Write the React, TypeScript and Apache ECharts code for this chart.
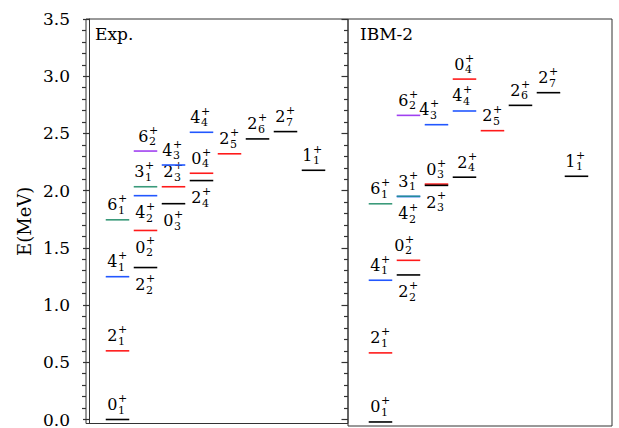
import React, { useEffect, useRef } from "react";
import * as echarts from "echarts";

// ---------- data ----------
const yTicks = [0.0, 0.5, 1.0, 1.5, 2.0, 2.5, 3.0, 3.5];
const yMinorTicks = [
  0.1, 0.2, 0.3, 0.4, 0.6, 0.7, 0.8, 0.9, 1.1, 1.2, 1.3, 1.4, 1.6, 1.7, 1.8, 1.9,
  2.1, 2.2, 2.3, 2.4, 2.6, 2.7, 2.8, 2.9, 3.1, 3.2, 3.3, 3.4,
];
const yAxisName = "E(MeV)";
const panelTitles = ["Exp.", "IBM-2"];

// level names are "J_n" (spin J, n-th state), parity always +
const expLevels = ["0_1", "2_1", "4_1", "2_2", "0_2", "6_1", "4_2", "3_1", "6_2", "0_3", "2_3", "4_3", "2_4", "0_4", "4_4", "2_5", "2_6", "2_7", "1_1"];
const expEnergies = [0.0, 0.6, 1.248, 1.328, 1.652, 1.745, 1.956, 2.034, 2.346, 1.886, 2.034, 2.224, 2.088, 2.152, 2.51, 2.322, 2.452, 2.516, 2.178];
const expColumns = [1, 1, 1, 2, 2, 1, 2, 2, 2, 3, 3, 3, 4, 4, 4, 5, 6, 7, 8];

const ibmLevels = ["0_1", "2_1", "4_1", "2_2", "0_2", "6_1", "4_2", "3_1", "0_3", "2_3", "2_4", "6_2", "4_3", "4_4", "0_4", "2_5", "2_6", "2_7", "1_1"];
const ibmEnergies = [0.0, 0.6, 1.231, 1.277, 1.404, 1.895, 1.958, 1.96, 2.066, 2.055, 2.126, 2.663, 2.582, 2.701, 2.978, 2.53, 2.75, 2.86, 2.134];
const ibmColumns = [1, 1, 1, 2, 2, 1, 2, 2, 3, 3, 4, 2, 3, 4, 4, 5, 6, 7, 8];

// ---------- styles / layout ----------
const FONT = "DejaVu Serif";
const BLACK = "#000000";
const RED = "#ff1a1a";
const BLUE = "#2257ff";
const GREEN = "#3a9a7a";
const PURPLE = "#a040f0";
const TEAL = "#238c9c";
const AXIS = "#333333";

const expColours: Record<string, string> = {
  "2_1": RED, "0_2": RED, "2_3": RED, "0_4": RED, "2_5": RED,
  "4_1": BLUE, "4_2": BLUE, "4_3": BLUE, "4_4": BLUE,
  "6_1": GREEN, "3_1": GREEN, "6_2": PURPLE,
};
const ibmColours: Record<string, string> = {
  "2_1": RED, "0_2": RED, "0_3": RED, "0_4": RED, "2_5": RED,
  "4_1": BLUE, "4_2": BLUE, "4_3": BLUE, "4_4": BLUE,
  "6_1": GREEN, "3_1": TEAL, "6_2": PURPLE,
};
const expBelow = new Set(["2_2", "0_2", "4_2", "0_3", "2_4"]);
const ibmBelow = new Set(["2_2", "4_2", "2_3"]);
const expShift: Record<string, number> = { "6_2": 3, "4_4": -1, "4_3": -1, "3_1": -1, "1_1": -1 };
const ibmShift: Record<string, number> = { "4_3": -7, "0_2": -4, "2_4": 3, "4_4": -2, "1_1": -1 };

const HALF = 0.42; // half width of a level line, in column units
const Y_MIN = -0.035;
const Y_MAX = 3.5;

function makeRender(
  levels: string[],
  colours: Record<string, string>,
  below: Set<string>,
  shift: Record<string, number>
) {
  return (params: any, api: any) => {
    const i = params.dataIndex;
    const name = levels[i];
    const [spin, idx] = name.split("_");
    const col = api.value(0) as number;
    const e = api.value(1) as number;
    const a = api.coord([col - HALF, e]);
    const b = api.coord([col + HALF, e]);
    const y = a[1];
    const cx = (a[0] + b[0]) / 2 + (shift[name] ?? 0);
    const isBelow = below.has(name);
    const mainDy = isBelow ? 17 : -15;
    const subDy = isBelow ? 22.5 : -9.5;
    const supDy = isBelow ? 10.5 : -21;
    const txt = (x: number, yy: number, text: string, size: number, align: string) => ({
      type: "text",
      x,
      y: yy,
      style: {
        text,
        font: `${size}px ${FONT}`,
        fill: "#000",
        align,
        verticalAlign: "middle",
        textAlign: align,
        textVerticalAlign: "middle",
      },
    });
    return {
      type: "group",
      children: [
        {
          type: "line",
          shape: { x1: a[0], y1: y, x2: b[0], y2: y },
          style: { stroke: colours[name] ?? BLACK, lineWidth: 1.6 },
        },
        txt(cx, y + mainDy, spin, 16, "right"),
        txt(cx + 0.5, y + subDy, idx, 11, "left"),
        txt(cx + 0.5, y + supDy, "+", 11, "left"),
      ],
    };
  };
}

export default function App() {
  const ref = useRef<HTMLDivElement>(null);
  useEffect(() => {
    if (!ref.current) return;
    const chart = echarts.init(ref.current, null, { renderer: "svg" });
    const tickLabelFmt = (v: number) => v.toFixed(1);
    const hiddenAxis = { show: false };
    const option: any = {
      animation: false,
      textStyle: { fontFamily: FONT },
      grid: [
        { left: 86, top: 19, width: 262, height: 407, show: true, borderColor: AXIS, borderWidth: 1, backgroundColor: "transparent" },
        { left: 348, top: 19, width: 264, height: 407, show: true, borderColor: AXIS, borderWidth: 1, backgroundColor: "transparent" },
      ],
      xAxis: [
        { type: "value", gridIndex: 0, min: -0.125, max: -0.125 + 262 / 28, ...hiddenAxis },
        { type: "value", gridIndex: 1, min: -0.16, max: -0.16 + 264 / 28, ...hiddenAxis },
      ],
      yAxis: [
        {
          type: "value", gridIndex: 0, position: "left", min: Y_MIN, max: Y_MAX,
          name: yAxisName, nameLocation: "middle", nameGap: 53,
          nameTextStyle: { fontFamily: FONT, fontSize: 18, color: "#000" },
          axisLine: { show: true, lineStyle: { color: AXIS, width: 1 } },
          axisTick: { show: true, inside: false, length: 6.5, customValues: yTicks, lineStyle: { color: AXIS, width: 1.2 } },
          axisLabel: { show: true, customValues: yTicks, formatter: tickLabelFmt, fontFamily: FONT, fontSize: 17, color: "#000", margin: 16 },
          splitLine: { show: false },
        },
        {
          type: "value", gridIndex: 0, position: "left", min: Y_MIN, max: Y_MAX,
          axisLine: { show: false },
          axisTick: { show: true, inside: false, length: 4, customValues: yMinorTicks, lineStyle: { color: AXIS, width: 1.2 } },
          axisLabel: { show: false },
          splitLine: { show: false },
        },
        {
          type: "value", gridIndex: 0, position: "right", min: Y_MIN, max: Y_MAX,
          axisLine: { show: false },
          axisTick: { show: true, inside: true, length: 6.5, customValues: yTicks, lineStyle: { color: AXIS, width: 1.2 } },
          axisLabel: { show: false },
          splitLine: { show: false },
        },
        {
          type: "value", gridIndex: 0, position: "right", min: Y_MIN, max: Y_MAX,
          axisLine: { show: false },
          axisTick: { show: true, inside: true, length: 4, customValues: yMinorTicks, lineStyle: { color: AXIS, width: 1.2 } },
          axisLabel: { show: false },
          splitLine: { show: false },
        },
        { type: "value", gridIndex: 1, min: Y_MIN, max: Y_MAX, show: false },
      ],
      graphic: [
        { type: "text", left: 95, top: 25, style: { text: panelTitles[0], font: `17px ${FONT}`, fill: "#000" } },
        { type: "text", left: 360, top: 25, style: { text: panelTitles[1], font: `17px ${FONT}`, fill: "#000" } },
      ],
      series: [
        {
          type: "custom",
          xAxisIndex: 0,
          yAxisIndex: 0,
          clip: false,
          renderItem: makeRender(expLevels, expColours, expBelow, expShift),
          data: expColumns.map((c, i) => [c, expEnergies[i]]),
        },
        {
          type: "custom",
          xAxisIndex: 1,
          yAxisIndex: 4,
          clip: false,
          renderItem: makeRender(ibmLevels, ibmColours, ibmBelow, ibmShift),
          data: ibmColumns.map((c, i) => [c, ibmEnergies[i]]),
        },
      ],
    };
    chart.setOption(option);
    return () => chart.dispose();
  }, []);
  return (
    <div
      ref={ref}
      style={{ position: "absolute", left: 0, top: 0, width: 619, height: 428, background: "#fff" }}
    />
  );
}
